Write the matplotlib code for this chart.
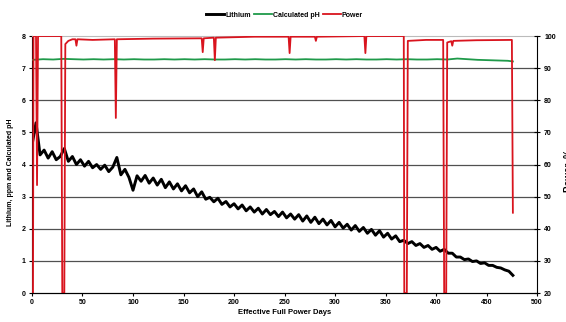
import matplotlib.pyplot as plt
import numpy as np

plt.rcParams['font.family'] = ['Liberation Sans', 'DejaVu Sans']
plt.rcParams['font.weight'] = 'bold'

# lithium, ppm - read every 4 EFPD
li_days = np.arange(0, 480, 4)
lithium = [4.6, 5.3, 4.3, 4.45, 4.2, 4.4, 4.15, 4.25, 4.5, 4.1,
           4.25, 4.0, 4.15, 3.95, 4.1, 3.9, 4.0, 3.85, 3.98, 3.78,
           3.92, 4.22, 3.68, 3.85, 3.6, 3.2, 3.65, 3.48, 3.66, 3.42,
           3.58, 3.36, 3.54, 3.28, 3.46, 3.24, 3.4, 3.18, 3.34, 3.12,
           3.24, 3.0, 3.15, 2.92, 2.98, 2.84, 2.95, 2.76, 2.85, 2.68,
           2.78, 2.62, 2.74, 2.56, 2.68, 2.52, 2.64, 2.46, 2.6, 2.44,
           2.54, 2.38, 2.52, 2.34, 2.46, 2.3, 2.44, 2.24, 2.4, 2.2,
           2.36, 2.16, 2.3, 2.12, 2.26, 2.06, 2.2, 2.02, 2.14, 1.96,
           2.1, 1.92, 2.04, 1.86, 1.98, 1.8, 1.94, 1.74, 1.86, 1.68,
           1.78, 1.6, 1.64, 1.54, 1.6, 1.48, 1.54, 1.42, 1.48, 1.36,
           1.42, 1.3, 1.36, 1.24, 1.24, 1.12, 1.12, 1.04, 1.06, 0.98,
           1.0, 0.92, 0.94, 0.86, 0.86, 0.8, 0.78, 0.72, 0.68, 0.55]

# calculated pH
ph_days = [1, 11, 21, 31, 41, 51, 61, 71, 81, 91, 101, 111, 121, 131, 141, 151,
           161, 171, 181, 191, 201, 211, 221, 231, 241, 251, 261, 271, 281, 291,
           301, 311, 321, 331, 341, 351, 361, 371, 381, 391, 401, 411, 421, 431,
           441, 451, 461, 471, 476]
ph = [7.26, 7.28, 7.27, 7.29, 7.28, 7.27, 7.28, 7.27, 7.28, 7.27, 7.28, 7.27,
      7.27, 7.28, 7.27, 7.28, 7.27, 7.28, 7.27, 7.27, 7.28, 7.27, 7.28, 7.27,
      7.27, 7.28, 7.27, 7.28, 7.27, 7.27, 7.28, 7.27, 7.28, 7.27, 7.27, 7.28,
      7.27, 7.28, 7.27, 7.27, 7.28, 7.27, 7.30, 7.28, 7.26, 7.25, 7.24, 7.23, 7.21]

# reactor power, %
pw_days = [1, 1.5, 4, 5, 6, 29, 30, 32, 33, 36, 40, 43, 44, 45, 60, 82, 83, 84,
           120, 168, 169, 170, 180, 181, 182, 220, 254, 255, 256, 280, 281, 282,
           329, 330, 331, 368, 368.5, 371, 372, 390, 407, 408, 410, 411, 415,
           416, 417, 440, 475, 476]
power = [20, 100, 100, 53.6, 100, 100, 20, 20, 97.5, 98.5, 99, 99, 97, 99, 98.8,
         99, 74.5, 99, 99.2, 99.3, 95, 99.3, 99.5, 92.5, 99.5, 99.8, 99.8, 94.7,
         99.8, 99.8, 98.5, 99.8, 100, 94.7, 100, 100, 20, 20, 98.5, 98.8, 98.8,
         20, 20, 98, 98.4, 97, 98.5, 98.7, 98.8, 45]

fig = plt.figure(figsize=(5.66, 3.22), dpi=100)
ax = fig.add_axes([0.0565, 0.09, 0.8925, 0.798])
ax2 = ax.twinx()

for v in range(1, 8):
    ax.axhline(v, color='#505050', lw=0.9, zorder=1)

l1, = ax.plot(li_days, lithium, color='black', lw=2.1, zorder=3, label='Lithium')
l2, = ax.plot(ph_days, ph, color='#1f9a4a', lw=1.3, zorder=3, label='Calculated pH')
l3, = ax2.plot(pw_days, power, color='#d9141e', lw=1.3, label='Power')

ax.set_xlim(0, 500)
ax.set_ylim(0, 8)
ax2.set_ylim(20, 100)
ax.set_xticks(range(0, 501, 50))
ax.set_yticks(range(0, 9))
ax2.set_yticks(range(20, 101, 10))

ax.spines['top'].set_color('#bbbbbb')
ax2.spines['top'].set_visible(False)
ax.spines['right'].set_visible(False)
ax2.spines['left'].set_visible(False)
ax.tick_params(labelsize=5, length=2.5, width=0.8, pad=2)
ax2.tick_params(labelsize=5, length=4, width=0.8, direction='inout', pad=3)

ax.set_xlabel('Effective Full Power Days', fontsize=5.5, fontweight='bold', labelpad=2)
ax.set_ylabel('Lithium, ppm and Calculated pH', fontsize=5, fontweight='bold', labelpad=6)
ax.yaxis.set_label_coords(-0.035, 0.47)
# right-hand axis title, running off the edge of the sheet
fig.text(1.005, 0.47, 'Power, %', rotation=90, fontsize=7, fontweight='bold',
         ha='center', va='center')

fig.legend([l1, l2, l3], ['Lithium', 'Calculated pH', 'Power'], loc='center',
           bbox_to_anchor=(0.503, 0.953), ncol=3, frameon=False, fontsize=5,
           handlelength=2.6, handletextpad=0.1, columnspacing=0.5)

fig.savefig('out.png', dpi=100)
